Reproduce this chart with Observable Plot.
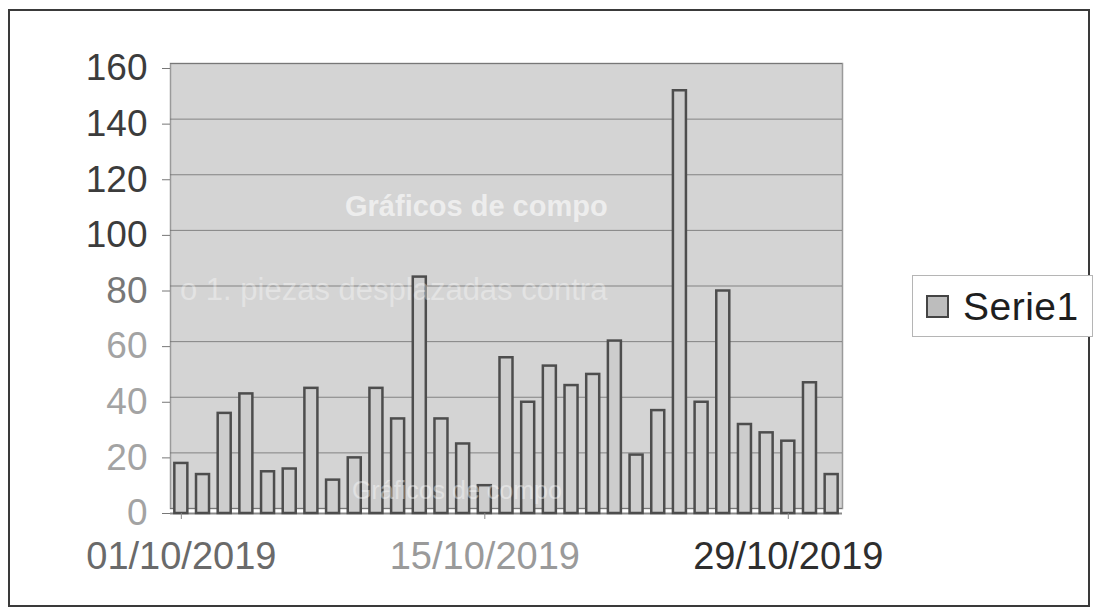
<!DOCTYPE html>
<html>
<head>
<meta charset="utf-8">
<script src="https://cdn.jsdelivr.net/npm/d3@7"></script>
<script src="https://cdn.jsdelivr.net/npm/@observablehq/plot@0.6"></script>
<style>
  html, body { margin: 0; padding: 0; background: #fff; }
  #wrap { position: relative; width: 1097px; height: 613px; overflow: hidden; font-family: "Liberation Sans", Arial, sans-serif; }
  #chart { position: absolute; left: 0; top: 0; }
  #outer { position: absolute; left: 8px; top: 9px; width: 1082px; height: 598px; border: 2px solid #3a3a3a; box-sizing: border-box; }
  #legend { position: absolute; left: 912px; top: 275px; width: 181px; height: 62px; border: 1px solid #b5b5b5; box-sizing: border-box; background: #fff; display: flex; align-items: center; }
  #legend .sw { width: 23px; height: 23px; margin-left: 13px; background: #bdbdbd; border: 2px solid #444; box-sizing: border-box; }
  #legend .lb { font-size: 39px; color: #1e1e1e; margin-left: 14px; letter-spacing: 0.5px; line-height: 1; }
  .ghost { position: absolute; color: #fff; opacity: 0.5; font-size: 29px; white-space: nowrap; font-family: "Liberation Sans", Arial, sans-serif; }
</style>
</head>
<body>
<div id="wrap">
  <div id="chart"></div>
  <div class="ghost" style="left:345px; top:190px; font-weight:bold; opacity:0.6;">Gráficos de compo</div>
  <div class="ghost" style="left:180px; top:272px; opacity:0.35; font-size:31px;">o 1. piezas desplazadas contra</div>
  <div class="ghost" style="left:352px; top:476px; opacity:0.4; font-size:25px;">Gráficos de compo</div>
  <div id="outer"></div>
  <div id="legend"><div class="sw"></div><div class="lb">Serie1</div></div>
</div>
<script>
// Categories: the 31 days of October 2019
const days = d3.utcDays(new Date(Date.UTC(2019, 9, 1)), new Date(Date.UTC(2019, 10, 1)));
// Serie1 values
const serie1 = [18, 14, 36, 43, 15, 16, 45, 12, 20, 45, 34, 85, 34, 25, 10, 56,
                40, 53, 46, 50, 62, 21, 37, 152, 40, 80, 32, 29, 26, 47, 14];
// Axis ticks
const yTicks = [0, 20, 40, 60, 80, 100, 120, 140, 160];
const xTickDays = [1, 15, 29];
const seriesName = "Serie1";

const data = days.map((d, i) => ({date: d, value: serie1[i], series: seriesName}));
const xTicks = days.filter(d => xTickDays.includes(d.getUTCDate()));
const fmt = d3.utcFormat("%d/%m/%Y");

const yColor = v => v >= 100 ? "#3c3c3c" : (v === 80 ? "#777" : "#a3a3a3");
const xColor = d => ({1: "#6a6a6a", 15: "#9a9a9a", 29: "#2e2e2e"})[d.getUTCDate()];

const chart = Plot.plot({
  width: 1097,
  height: 613,
  marginLeft: 170,
  marginRight: 255,
  marginTop: 68,
  marginBottom: 100,
  style: {fontFamily: "'Liberation Sans', Arial, sans-serif", background: "transparent", overflow: "visible"},
  x: {type: "band", domain: days, paddingInner: 0.4, paddingOuter: 0.2, round: false, label: null},
  y: {domain: [0, 160], label: null},
  marks: [
    Plot.frame({fill: "#d4d4d4", stroke: "#9a9a9a", strokeWidth: 1.5, dy: -5}),
    Plot.gridY(yTicks, {stroke: "#6e6e6e", strokeOpacity: 0.8, strokeWidth: 1, dy: -5}),
    Plot.ruleY([0], {stroke: "#8a8a8a", strokeWidth: 2}),
    Plot.barY(data, {x: "date", y: "value", fill: "#cdcdcd", stroke: "#4d4d4d", strokeWidth: 2.5}),
    Plot.axisY({
      ticks: yTicks, tickSize: 8, tickPadding: 15, stroke: "#777",
      fontSize: 37, fill: yColor, tickFormat: d => String(d),
      style: {letterSpacing: "1px"}
    }),
    Plot.axisX({
      ticks: xTicks, tickSize: 6, tickPadding: 23, stroke: "#888",
      fontSize: 38, fill: xColor, tickFormat: fmt,
      style: {letterSpacing: "2.2px"}
    })
  ]
});
document.getElementById("chart").appendChild(chart);
</script>
</body>
</html>
